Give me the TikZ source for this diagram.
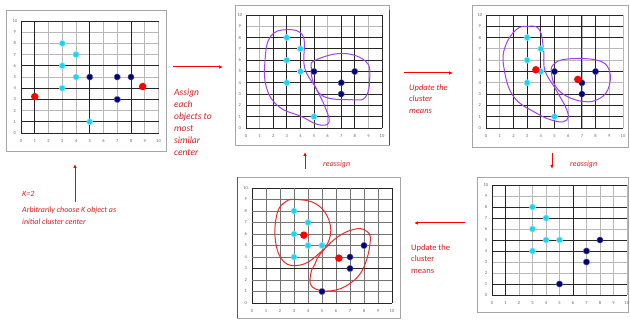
\documentclass[tikz,border=0pt]{standalone}
\usepackage{fontspec}
\setmainfont{Carlito}
\usetikzlibrary{shapes.geometric,arrows.meta}
\definecolor{cyanpt}{HTML}{1AD4F2}
\definecolor{navypt}{HTML}{00007A}
\definecolor{purp}{HTML}{A040F0}
\definecolor{redc}{HTML}{F02828}
\definecolor{txtred}{HTML}{D42020}
\tikzset{
  gl/.style={draw=black!28, line width=0.8pt},
  gd/.style={draw=black!85, line width=0.9pt},
  tick/.style={font=\fontsize{4.5}{5}\selectfont, text=black!60, inner sep=0pt},
  frame/.style={draw=black!35, line width=0.9pt},
  cy/.style={diamond, fill=cyanpt, draw=cyanpt!40, line width=0.6pt, inner sep=0pt, minimum size=8.5pt, rounded corners=1.8pt},
  nv/.style={diamond, fill=navypt, draw=navypt!60, line width=0.4pt, inner sep=0pt, minimum size=8.5pt, rounded corners=1.8pt},
  rd/.style={circle, fill=red, inner sep=0pt, minimum size=7.5pt},
  rarr/.style={draw=red, line width=1pt, -{Latex[length=4pt,width=3.5pt]}},
  lbl/.style={text=txtred, inner sep=0pt, align=left},
  blobp/.style={draw=purp, line width=1pt},
  blobr/.style={draw=redc, line width=1pt},
}
\newcommand{\mygrid}[3]{%
  \foreach \i in {0,...,10} {\draw[gl] (\i,0)--(\i,10); \draw[gl] (0,\i)--(10,\i);}
  \foreach \i in {#2} {\draw[gd] (\i,0)--(\i,10);}
  \foreach \i in {#3} {\draw[gd] (0,\i)--(10,\i);}
  \foreach \i in {0,...,10} {\node[tick] (#1x\i) at (\i,-0.7) {\i}; \node[tick] (#1y\i) at (-0.45,\i) {\i};}
}
\begin{document}
\begin{tikzpicture}[x=1pt,y=-1pt]
\useasboundingbox (0,0) rectangle (630,320);
\fill[white] (0,0) rectangle (630,320);

% frames
\draw[frame] (6,10) rectangle (166,151);
\draw[frame] (235,5) rectangle (389,145);
\draw[draw=black!70, line width=0.9pt] (389,10) -- (389,145);
\draw[frame] (472,5) rectangle (628,147);
\draw[frame] (237,177) rectangle (400,318);
\draw[draw=black!65, line width=0.9pt] (237,177) -- (237,318);
\draw[frame] (477,177) rectangle (628,312);

% panel 1
\begin{scope}[shift={(21,133)}, x=13.75pt, y=11.2pt]
  \mygrid{a}{0,1,5,8}{0,1,3,4,6,10}
  \node[cy] (a1) at (3,8) {};
  \node[cy] (a2) at (4,7) {};
  \node[cy] (a3) at (3,6) {};
  \node[cy] (a4) at (4,5) {};
  \node[cy] (a5) at (3,4) {};
  \node[cy] (a6) at (5,1) {};
  \node[nv] (a7) at (5,5) {};
  \node[nv] (a8) at (7,5) {};
  \node[nv] (a9) at (8,5) {};
  \node[nv] (a10) at (7,3) {};
  \node[rd] (ar1) at (1,3.25) {};
  \node[rd] (ar2) at (8.85,4.15) {};
\end{scope}

% panel 2
\begin{scope}[shift={(246,128)}, x=13.6pt, y=11.3pt]
  \mygrid{b}{0,2,3,4,5,7,8,10}{0,1,2,3,4,5,6,7,8,10}
  \draw[blobp] plot[smooth cycle, tension=0.7] coordinates {(3.0,8.7) (4.2,8.1) (4.3,5.4) (5.1,3.6) (5.8,1.9) (6.1,0.5) (5.3,0.3) (4.1,1.0) (2.4,1.9) (1.5,3.6) (1.4,6.0) (1.8,8.1)};
  \draw[blobp] plot[smooth cycle, tension=0.7] coordinates {(5.1,6.0) (7.1,6.6) (8.8,5.9) (9.1,4.5) (8.8,2.75) (7.8,2.5) (5.8,2.75) (5.0,3.9) (4.8,5.3)};
  \node[cy] (b1) at (3,8) {};
  \node[cy] (b2) at (4,7) {};
  \node[cy] (b3) at (3,6) {};
  \node[cy] (b4) at (4,5) {};
  \node[cy] (b5) at (3,4) {};
  \node[cy] (b6) at (5,1) {};
  \node[nv] (b7) at (5,5) {};
  \node[nv] (b8) at (8,5) {};
  \node[nv] (b9) at (7,4) {};
  \node[nv] (b10) at (7,3) {};
\end{scope}

% panel 3
\begin{scope}[shift={(486,128)}, x=13.7pt, y=11.3pt]
  \mygrid{c}{0,2,3,4,5,7,8}{0,1,2,3,5,8,9,10}
  \draw[blobp] plot[smooth cycle, tension=0.7] coordinates {(3.1,9.0) (3.9,8.7) (4.2,6.9) (4.3,5.1) (5.1,3.4) (5.9,1.6) (5.9,0.7) (5.1,0.6) (3.7,1.3) (2.0,2.8) (1.3,5.4) (1.4,7.2) (2.2,8.7)};
  \draw[blobp] plot[smooth cycle, tension=0.7] coordinates {(4.9,5.6) (5.9,6.1) (8.1,6.0) (9.0,5.1) (8.9,3.4) (8.1,2.5) (7.1,2.35) (5.9,2.8) (5.1,3.65) (4.8,4.7)};
  \node[cy] (c1) at (3,8) {};
  \node[cy] (c2) at (4,7) {};
  \node[cy] (c3) at (3,6) {};
  \node[cy] (c4) at (4,5) {};
  \node[cy] (c5) at (3,4) {};
  \node[cy] (c6) at (5,1) {};
  \node[nv] (c7) at (5,5) {};
  \node[nv] (c8) at (8,5) {};
  \node[nv] (c9) at (7,4) {};
  \node[nv] (c10) at (7,3) {};
  \node[rd] (cr1) at (3.64,5.15) {};
  \node[rd] (cr2) at (6.7,4.3) {};
\end{scope}

% panel 4 (bottom middle)
\begin{scope}[shift={(252,303)}, x=14pt, y=11.5pt]
  \mygrid{d}{0,10}{0,3,10}
  \foreach \i in {1,...,9} {\draw[draw=black!55, line width=0.8pt] (\i,0)--(\i,10);}
  \foreach \i in {1,2,4,5,6,7,8,9} {\draw[draw=black!55, line width=0.8pt] (0,\i)--(10,\i);}
  \draw[gd] (0,3)--(10,3);
  \draw[blobr] plot[smooth cycle, tension=0.7] coordinates {(3.2,9.0) (4.6,8.6) (5.5,7.2) (5.5,5.45) (4.6,4.1) (3.45,3.3) (2.26,3.6) (1.67,5.45) (1.8,7.8) (2.4,8.8)};
  \draw[blobr] plot[smooth cycle, tension=0.7] coordinates {(4.9,4.3) (6.07,5.7) (7.26,6.4) (8.1,6.3) (8.45,5.45) (7.98,3.1) (7.0,1.7) (5.6,1.05) (4.3,1.4) (4.2,2.55) (4.5,3.4)};
  \node[cy] (d1) at (3,8) {};
  \node[cy] (d2) at (4,7) {};
  \node[cy] (d3) at (3,6) {};
  \node[cy] (d4) at (4,5) {};
  \node[cy] (d5) at (5,5) {};
  \node[cy] (d6) at (3,4) {};
  \node[nv] (d7) at (8,5) {};
  \node[nv] (d8) at (7,4) {};
  \node[nv] (d9) at (7,3) {};
  \node[nv] (d10) at (5,1) {};
  \node[rd] (dr1) at (3.7,5.9) {};
  \node[rd] (dr2) at (6.2,3.9) {};
\end{scope}

% panel 5 (bottom right)
\begin{scope}[shift={(492,295)}, x=13.5pt, y=11pt]
  \mygrid{e}{0,1,6}{0,1,4,5,7,8,10}
  \node[cy] (e1) at (3,8) {};
  \node[cy] (e2) at (4,7) {};
  \node[cy] (e3) at (3,6) {};
  \node[cy] (e4) at (4,5) {};
  \node[cy] (e5) at (5,5) {};
  \node[cy] (e6) at (3,4) {};
  \node[nv] (e7) at (8,5) {};
  \node[nv] (e8) at (7,4) {};
  \node[nv] (e9) at (7,3) {};
  \node[nv] (e10) at (5,1) {};
\end{scope}

% arrows
\coordinate (s1) at (173,67); \coordinate (t1) at (223,67);
\coordinate (s2) at (404,73); \coordinate (t2) at (453,73);
\coordinate (s3) at (552,153); \coordinate (t3) at (552,169);
\coordinate (s4) at (465,223); \coordinate (t4) at (414,223);
\coordinate (s5) at (305,169); \coordinate (t5) at (305,152);
\coordinate (s6) at (75,202); \coordinate (t6) at (75,164);
\draw[rarr] (s1) -- (t1);
\draw[rarr] (s2) -- (t2);
\draw[rarr] (s3) -- (t3);
\draw[rarr] (s4) -- (t4);
\draw[rarr] (s5) -- (t5);
\draw[rarr] (s6) -- (t6);

% labels
\node[lbl, anchor=north west, font=\fontsize{9.5}{12}\selectfont\itshape] (l1) at (174,89) {Assign\\each\\objects to\\most\\similar\\center};
\node[lbl, anchor=north west, font=\fontsize{8.5}{11.5}\selectfont\itshape] (l2) at (409,84) {Update the\\cluster\\means};
\node[lbl, anchor=west, font=\fontsize{8}{10}\selectfont\itshape] (l3) at (570,164) {reassign};
\node[lbl, anchor=north west, font=\fontsize{8.5}{11.5}\selectfont] (l4) at (411,244) {Update the\\cluster\\means};
\node[lbl, anchor=west, font=\fontsize{8}{10}\selectfont\itshape] (l5) at (323,164) {reassign};
\node[lbl, anchor=west, font=\fontsize{8}{10}\selectfont\itshape] (l6) at (22,194) {K=2};
\node[lbl, anchor=north west, font=\fontsize{8}{11.5}\selectfont\itshape] (l7) at (22,207) {Arbitrarily choose K object as\\initial cluster center};
\end{tikzpicture}
\end{document}
